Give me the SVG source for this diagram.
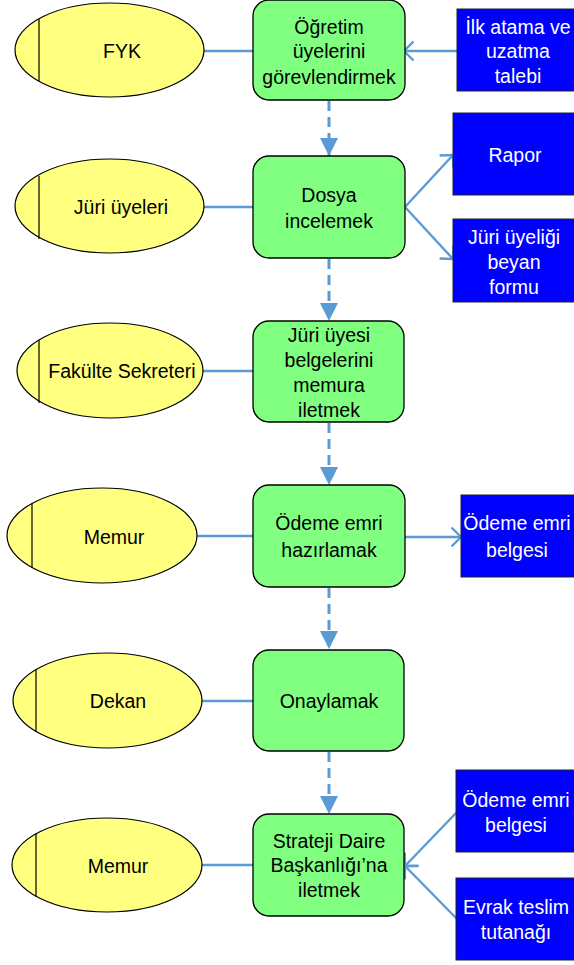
<svg xmlns="http://www.w3.org/2000/svg" width="574" height="965" viewBox="0 0 574 965">
<style>
.ell{fill:#FFFF80;stroke:#000;stroke-width:1.2}
.vl{stroke:#000;stroke-width:1.2}
.box{fill:#80FF80;stroke:#000;stroke-width:1.3}
.doc{fill:#0000FF;stroke:#222;stroke-width:1}
.t{font-family:"Liberation Sans",Arial,sans-serif;font-size:19.5px;fill:#000;text-anchor:middle}
.w{fill:#fff}
.c{stroke:#5B9BD5;stroke-width:2.4;fill:none}
.d{stroke:#5B9BD5;stroke-width:3;fill:none;stroke-dasharray:10 6}
</style>
<defs>
<marker id="chev" markerUnits="userSpaceOnUse" orient="auto" overflow="visible" refX="0" refY="0" markerWidth="20" markerHeight="20">
<path d="M-9.5,-9.5 L0,0 L-9.5,9.5" fill="none" stroke="#5B9BD5" stroke-width="2.4"/>
</marker>
<marker id="tri" markerUnits="userSpaceOnUse" orient="auto" overflow="visible" refX="0" refY="0" markerWidth="20" markerHeight="20">
<path d="M-18,-9 L0,0 L-18,9 Z" fill="#5B9BD5"/>
</marker>
</defs>

<g id="connectors">
<line class="c" x1="204" y1="51" x2="253" y2="51"/>
<line class="c" x1="204" y1="207" x2="253" y2="207"/>
<line class="c" x1="203" y1="371" x2="253" y2="371"/>
<line class="c" x1="197" y1="536" x2="253" y2="536"/>
<line class="c" x1="202" y1="701" x2="253" y2="701"/>
<line class="c" x1="202" y1="865" x2="253" y2="865"/>
<line class="c" x1="457" y1="51" x2="404" y2="51" marker-end="url(#chev)"/>
<line class="c" x1="405" y1="207" x2="453" y2="155" marker-end="url(#chev)"/>
<line class="c" x1="405" y1="207" x2="453" y2="259" marker-end="url(#chev)"/>
<line class="c" x1="405" y1="537" x2="461" y2="537" marker-end="url(#chev)"/>
<line class="c" x1="457" y1="812" x2="405" y2="866" marker-end="url(#chev)"/>
<line class="c" x1="457" y1="919" x2="405" y2="866" marker-end="url(#chev)"/>
<line class="d" x1="329" y1="101" x2="329" y2="156" marker-end="url(#tri)"/>
<line class="d" x1="329" y1="259" x2="329" y2="321" marker-end="url(#tri)"/>
<line class="d" x1="329" y1="423" x2="329" y2="485" marker-end="url(#tri)"/>
<line class="d" x1="329" y1="588" x2="329" y2="649" marker-end="url(#tri)"/>
<line class="d" x1="329" y1="752" x2="329" y2="814" marker-end="url(#tri)"/>
</g>

<g id="e-fyk"><ellipse class="ell" cx="109.5" cy="50" rx="94.5" ry="47"/><line class="vl" x1="39" y1="19" x2="39" y2="81"/><text class="t" x="122" y="58">FYK</text></g>
<g id="e-juri"><ellipse class="ell" cx="109.5" cy="206" rx="94.5" ry="47"/><line class="vl" x1="39" y1="176" x2="39" y2="239"/><text class="t" x="121" y="214">Jüri üyeleri</text></g>
<g id="e-fakulte"><ellipse class="ell" cx="110" cy="370.5" rx="93" ry="47.5"/><line class="vl" x1="39" y1="340" x2="39" y2="403"/><text class="t" x="122" y="378">Fakülte Sekreteri</text></g>
<g id="e-memur1"><ellipse class="ell" cx="102" cy="535.5" rx="95" ry="47.5"/><line class="vl" x1="32" y1="503" x2="32" y2="568"/><text class="t" x="114" y="544">Memur</text></g>
<g id="e-dekan"><ellipse class="ell" cx="107.5" cy="700.5" rx="94.5" ry="47.5"/><line class="vl" x1="36" y1="669" x2="36" y2="732"/><text class="t" x="118" y="708">Dekan</text></g>
<g id="e-memur2"><ellipse class="ell" cx="107" cy="865" rx="95" ry="47"/><line class="vl" x1="36" y1="833" x2="36" y2="897"/><text class="t" x="118" y="873">Memur</text></g>

<g id="p1"><rect class="box" x="253" y="0" width="152" height="100" rx="16"/><text class="t" x="329" y="34">Öğretim</text><text class="t" x="329" y="58">üyelerini</text><text class="t" x="329" y="84">görevlendirmek</text></g>
<g id="p2"><rect class="box" x="253" y="156" width="152" height="102" rx="16"/><text class="t" x="329" y="202">Dosya</text><text class="t" x="329" y="228">incelemek</text></g>
<g id="p3"><rect class="box" x="253" y="321" width="151" height="101" rx="16"/><text class="t" x="329" y="342">Jüri üyesi</text><text class="t" x="329" y="367">belgelerini</text><text class="t" x="329" y="392">memura</text><text class="t" x="329" y="417">iletmek</text></g>
<g id="p4"><rect class="box" x="253" y="485" width="152" height="102" rx="16"/><text class="t" x="329" y="530">Ödeme emri</text><text class="t" x="329" y="557">hazırlamak</text></g>
<g id="p5"><rect class="box" x="253" y="650" width="151" height="101" rx="16"/><text class="t" x="329" y="708">Onaylamak</text></g>
<g id="p6"><rect class="box" x="253" y="814" width="151" height="102" rx="16"/><text class="t" x="329" y="848">Strateji Daire</text><text class="t" x="329" y="872">Başkanlığı’na</text><text class="t" x="329" y="897">iletmek</text></g>

<g id="d1"><rect class="doc" x="457" y="9" width="130" height="82"/><text class="t w" x="518" y="34">İlk atama ve</text><text class="t w" x="518" y="58">uzatma</text><text class="t w" x="518" y="83">talebi</text></g>
<g id="d2"><rect class="doc" x="453" y="113" width="130" height="82"/><text class="t w" x="515" y="162">Rapor</text></g>
<g id="d3"><rect class="doc" x="453" y="219" width="130" height="83"/><text class="t w" x="514" y="244">Jüri üyeliği</text><text class="t w" x="514" y="269">beyan</text><text class="t w" x="514" y="294">formu</text></g>
<g id="d4"><rect class="doc" x="461" y="495" width="130" height="82"/><text class="t w" x="517" y="530">Ödeme emri</text><text class="t w" x="517" y="557">belgesi</text></g>
<g id="d5"><rect class="doc" x="456" y="770" width="130" height="82"/><text class="t w" x="516" y="807">Ödeme emri</text><text class="t w" x="516" y="832">belgesi</text></g>
<g id="d6"><rect class="doc" x="456" y="878" width="130" height="82"/><text class="t w" x="516" y="914">Evrak teslim</text><text class="t w" x="516" y="939">tutanağı</text></g>
</svg>
